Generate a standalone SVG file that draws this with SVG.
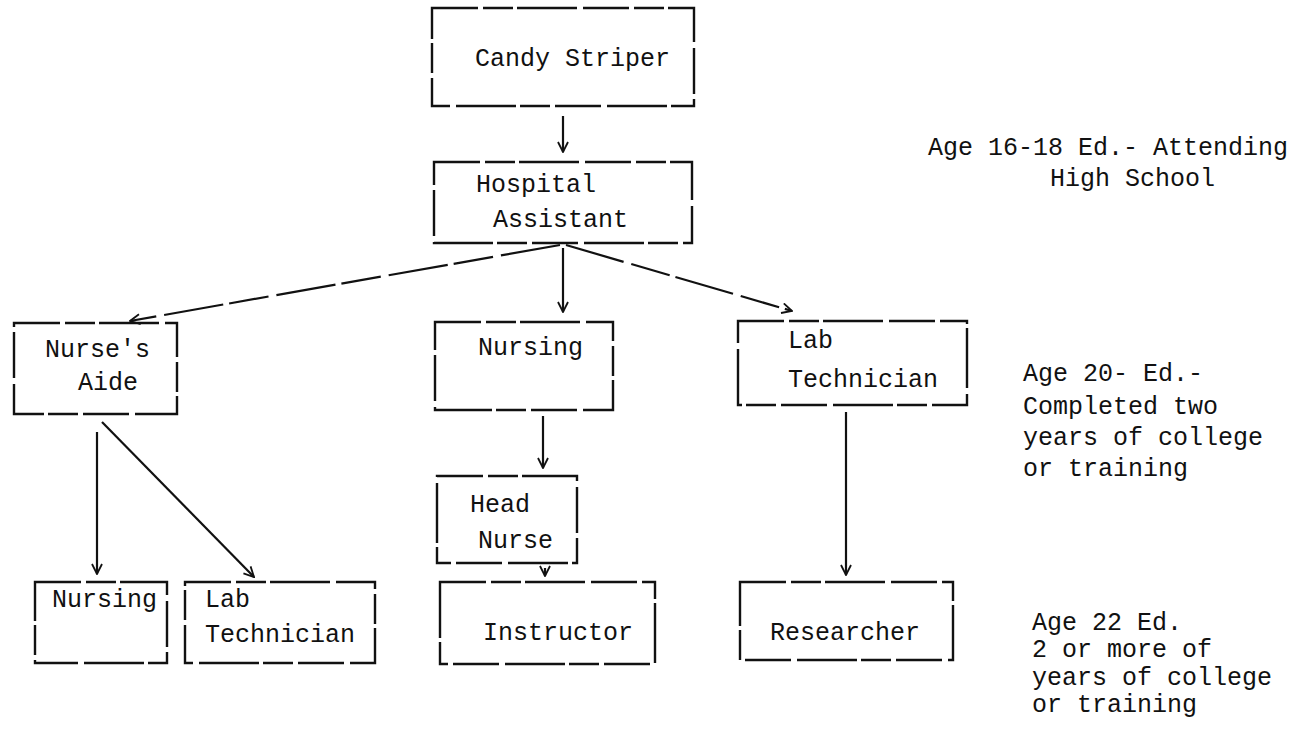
<svg xmlns="http://www.w3.org/2000/svg" width="1315" height="741" viewBox="0 0 1315 741">
<style>
.box{fill:none;stroke:#111;stroke-width:2.4;stroke-dasharray:46 5 30 4 60 6}
.t{font-family:"Liberation Mono","Courier New",monospace;font-size:25px;fill:#111}
.c{fill:none;stroke:#111;stroke-width:2.2}
.cd{fill:none;stroke:#111;stroke-width:2.2;stroke-dasharray:60 8 40 6}
</style>
<defs>
<marker id="v" viewBox="0 0 12 12" refX="11" refY="6" markerWidth="12" markerHeight="12" markerUnits="userSpaceOnUse" orient="auto">
<path d="M1,1 L11,6 L1,11" fill="none" stroke="#111" stroke-width="1.8"/>
</marker>
</defs>
<rect width="1315" height="741" fill="#fff"/>
<g id="connectors">
<line class="c" x1="563" y1="116" x2="563" y2="152" marker-end="url(#v)"/>
<line class="cd" x1="560" y1="245" x2="130" y2="321" marker-end="url(#v)"/>
<line class="c" x1="563" y1="248" x2="563" y2="312" marker-end="url(#v)"/>
<line class="cd" x1="566" y1="245" x2="792" y2="311" marker-end="url(#v)"/>
<line class="c" x1="97" y1="432" x2="97" y2="574" marker-end="url(#v)"/>
<line class="c" x1="102" y1="422" x2="254" y2="577" marker-end="url(#v)"/>
<line class="c" x1="543" y1="416" x2="543" y2="468" marker-end="url(#v)"/>
<line class="c" x1="545" y1="568" x2="545" y2="576" marker-end="url(#v)"/>
<line class="c" x1="846" y1="412" x2="846" y2="575" marker-end="url(#v)"/>
</g>
<g id="candy-striper">
<rect class="box" x="432" y="8" width="262" height="98"/>
<text class="t" x="475" y="66">Candy Striper</text>
</g>
<g id="hospital-assistant">
<rect class="box" x="434" y="162" width="258" height="81"/>
<text class="t" x="476" y="192">Hospital</text>
<text class="t" x="493" y="227">Assistant</text>
</g>
<g id="nurses-aide">
<rect class="box" x="14" y="323" width="163" height="91"/>
<text class="t" x="45" y="357">Nurse's</text>
<text class="t" x="78" y="390">Aide</text>
</g>
<g id="nursing">
<rect class="box" x="435" y="322" width="178" height="88"/>
<text class="t" x="478" y="355">Nursing</text>
</g>
<g id="lab-technician">
<rect class="box" x="738" y="321" width="229" height="84"/>
<text class="t" x="788" y="348">Lab</text>
<text class="t" x="788" y="387">Technician</text>
</g>
<g id="head-nurse">
<rect class="box" x="437" y="476" width="140" height="87"/>
<text class="t" x="470" y="512">Head</text>
<text class="t" x="478" y="548">Nurse</text>
</g>
<g id="nursing-2">
<rect class="box" x="35" y="582" width="132" height="81"/>
<text class="t" x="52" y="607">Nursing</text>
</g>
<g id="lab-technician-2">
<rect class="box" x="185" y="582" width="190" height="81"/>
<text class="t" x="205" y="607">Lab</text>
<text class="t" x="205" y="642">Technician</text>
</g>
<g id="instructor">
<rect class="box" x="440" y="582" width="215" height="82"/>
<text class="t" x="483" y="640">Instructor</text>
</g>
<g id="researcher">
<rect class="box" x="740" y="582" width="213" height="78"/>
<text class="t" x="770" y="640">Researcher</text>
</g>
<g id="age-16-18">
<text class="t" x="928" y="155">Age 16-18 Ed.- Attending</text>
<text class="t" x="1050" y="186">High School</text>
</g>
<g id="age-20">
<text class="t" x="1023" y="381">Age 20- Ed.-</text>
<text class="t" x="1023" y="414">Completed two</text>
<text class="t" x="1023" y="445">years of college</text>
<text class="t" x="1023" y="476">or training</text>
</g>
<g id="age-22">
<text class="t" x="1032" y="630">Age 22  Ed.</text>
<text class="t" x="1032" y="657">2 or more of</text>
<text class="t" x="1032" y="685">years of college</text>
<text class="t" x="1032" y="712">or training</text>
</g>
</svg>
